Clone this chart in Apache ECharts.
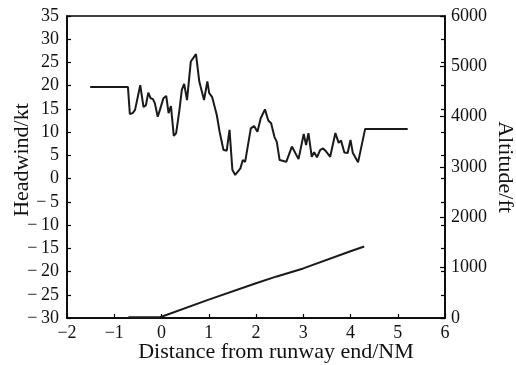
<!DOCTYPE html>
<html>
<head>
<meta charset="utf-8">
<script src="https://cdn.jsdelivr.net/npm/echarts@6/dist/echarts.min.js"></script>
<style>
html,body{margin:0;padding:0;background:#fff;}
#chart{width:516px;height:365px;}
</style>
</head>
<body>
<div id="chart"></div>
<script>
// Headwind (kt) vs distance from runway end (NM)
const hwDistance = [-1.51,-0.71,-0.67,-0.61,-0.56,-0.45,-0.38,-0.33,-0.28,-0.23,-0.18,-0.14,-0.08,-0.03,0.04,0.10,0.15,0.20,0.26,0.31,0.38,0.43,0.48,0.54,0.62,0.73,0.80,0.90,0.97,1.01,1.07,1.17,1.23,1.31,1.38,1.44,1.50,1.56,1.67,1.72,1.77,1.89,1.96,2.03,2.10,2.19,2.26,2.32,2.39,2.44,2.50,2.58,2.64,2.76,2.90,3.01,3.06,3.11,3.18,3.23,3.29,3.36,3.42,3.47,3.51,3.57,3.68,3.75,3.80,3.87,3.94,4.00,4.05,4.16,4.31,5.21];
const headwind   = [19.7,19.7,13.9,14.1,14.8,20.1,15.4,15.8,18.5,17.3,17.1,16.2,13.3,14.9,17.3,17.8,14.1,15.6,9.2,9.8,14.8,19.1,20.4,16.9,25.2,26.8,20.9,16.9,20.9,18.4,17.6,13.7,10.1,6.2,6.0,10.5,1.9,0.8,2.2,4.0,3.6,10.8,11.3,10.1,13.0,14.9,12.5,11.9,9.0,7.9,4.0,3.8,3.6,6.9,4.2,9.6,7.2,9.8,4.7,5.7,4.6,6.2,6.5,6.0,6.2,4.7,9.8,7.7,8.2,5.6,5.5,8.3,5.5,3.5,10.7,10.7];
// Altitude (ft) vs distance
const altDistance = [-0.70,-0.03,0.00,1.00,2.00,2.44,3.00,4.00,4.29];
const altitude    = [15,15,30,365,690,826,985,1325,1421];
// Axis ticks
const xTicks = {min:-2,max:6,step:1};
const hwTicks = {min:-30,max:35,step:5};
const altTicks = {min:0,max:6000,step:1000};

const hwData = hwDistance.map((d,i)=>[d,headwind[i]]);
const altData = altDistance.map((d,i)=>[d,altitude[i]]);
const FONT = '"Liberation Serif","Times New Roman",serif';
const fmtNeg = v => v < 0 ? '\u2212\u2009' + Math.abs(v) : String(v);
const fmtNegX = v => v < 0 ? '\u2212' + Math.abs(v) : String(v);

const chart = echarts.init(document.getElementById('chart'), null, {renderer:'canvas'});
chart.setOption({
  animation:false,
  backgroundColor:'#fff',
  grid:{left:67,right:71,top:16,bottom:47,show:true,borderColor:'#000',borderWidth:1.5,containLabel:false,outerBoundsMode:'none'},
  xAxis:{
    type:'value',min:xTicks.min,max:xTicks.max,interval:xTicks.step,
    name:'Distance from runway end/NM',nameLocation:'middle',nameGap:23,nameMoveOverlap:false,
    nameTextStyle:{fontFamily:FONT,fontSize:22,color:'#111',verticalAlign:'top',padding:[0,0,0,40]},
    axisLine:{show:true,onZero:false,lineStyle:{color:'#000',width:1.5}},
    axisTick:{show:true,inside:true,length:4,lineStyle:{color:'#000',width:1.2}},
    axisLabel:{fontFamily:FONT,fontSize:18,color:'#111',margin:6,formatter:fmtNegX},
    splitLine:{show:false}
  },
  yAxis:[{
    type:'value',position:'left',min:hwTicks.min,max:hwTicks.max,interval:hwTicks.step,
    name:'Headwind/kt',nameLocation:'middle',nameGap:34,nameRotate:90,nameMoveOverlap:false,
    nameTextStyle:{fontFamily:FONT,fontSize:22,color:'#111',padding:[0,0,0,14]},
    axisLine:{show:true,onZero:false,lineStyle:{color:'#000',width:1.5}},
    axisTick:{show:true,inside:true,length:4,lineStyle:{color:'#000',width:1.2}},
    axisLabel:{fontFamily:FONT,fontSize:18,color:'#111',margin:8,formatter:fmtNeg},
    splitLine:{show:false}
  },{
    type:'value',position:'right',min:altTicks.min,max:altTicks.max,interval:altTicks.step,
    name:'Altitude/ft',nameLocation:'middle',nameGap:49,nameRotate:-90,nameMoveOverlap:false,
    nameTextStyle:{fontFamily:FONT,fontSize:22,color:'#111'},
    axisLine:{show:true,onZero:false,lineStyle:{color:'#000',width:1.5}},
    axisTick:{show:true,inside:true,length:5,lineStyle:{color:'#000',width:1.2}},
    axisLabel:{fontFamily:FONT,fontSize:18,color:'#111',margin:6,formatter:v=>String(v)},
    splitLine:{show:false}
  },{
    type:'value',position:'right',offset:0,min:hwTicks.min,max:hwTicks.max,interval:hwTicks.step,
    axisLine:{show:false,onZero:false},
    axisTick:{show:true,inside:true,length:4,lineStyle:{color:'#000',width:1.2}},
    axisLabel:{show:false},
    splitLine:{show:false}
  }],
  series:[{
    type:'line',data:hwData,yAxisIndex:0,showSymbol:false,symbol:'none',
    lineStyle:{color:'#1a1a1a',width:2},z:3
  },{
    type:'line',data:altData,yAxisIndex:1,showSymbol:false,symbol:'none',
    lineStyle:{color:'#1a1a1a',width:2},z:3
  }]
});
</script>
</body>
</html>
